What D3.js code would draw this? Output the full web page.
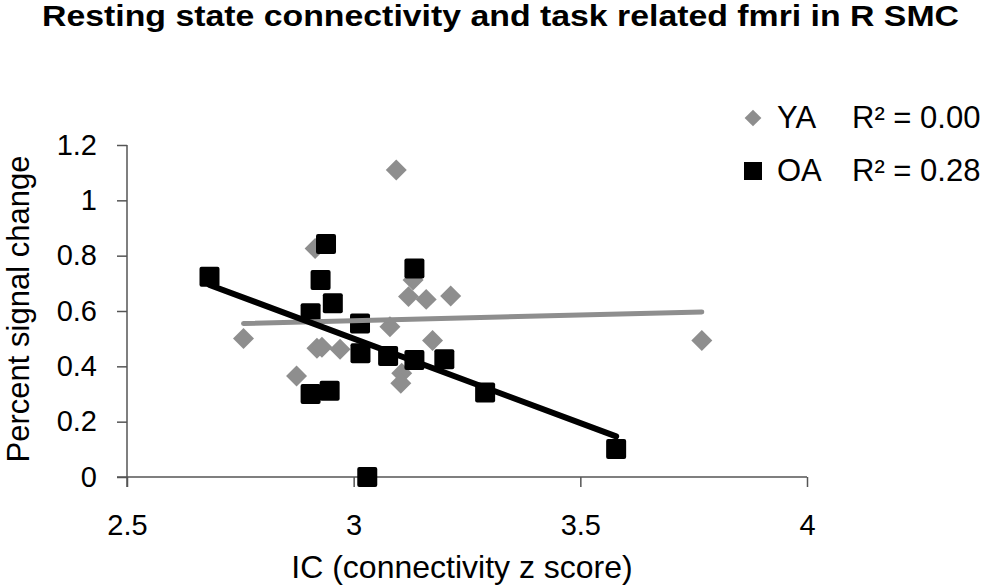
<!DOCTYPE html>
<html>
<head>
<meta charset="utf-8">
<script src="https://cdn.jsdelivr.net/npm/d3@7"></script>
<style>
  body { margin: 0; background: #fff; }
  text { font-family: "Liberation Sans", Arial, sans-serif; }
</style>
</head>
<body>
<svg id="chart" width="981" height="586"></svg>
<script>
// data
var yaX = [3.094, 2.915, 3.131, 3.121, 3.160, 3.214, 2.757, 3.080, 3.174, 2.919, 2.930, 2.970, 2.874, 3.106, 3.104, 3.768];
var yaY = [1.11, 0.826, 0.712, 0.652, 0.642, 0.654, 0.501, 0.543, 0.493, 0.465, 0.469, 0.462, 0.365, 0.375, 0.339, 0.493];
var oaX = [2.682, 2.939, 2.927, 2.954, 2.905, 3.134, 3.014, 3.015, 3.076, 3.134, 3.200, 2.947, 2.905, 3.290, 3.030, 3.579];
var oaY = [0.724, 0.842, 0.712, 0.628, 0.592, 0.754, 0.555, 0.447, 0.437, 0.423, 0.426, 0.312, 0.300, 0.305, 0.0, 0.101];
// linear trend lines: [intercept, slope]
var yaFit = [0.442, 0.041];
var oaFit = [2.33, -0.61];
var seriesNames = ["YA", "OA"];
var r2Labels = ["R\u00b2 = 0.00", "R\u00b2 = 0.28"];
var xTicks = [2.5, 3, 3.5, 4];
var yTicks = [0, 0.2, 0.4, 0.6, 0.8, 1, 1.2];

var grey = "#8e8e8e";
var svg = d3.select("#chart");

var x = d3.scaleLinear().domain([2.5, 4]).range([127, 807]);
var y = d3.scaleLinear().domain([0, 1.2]).range([477, 145]);

// title
svg.append("text")
  .attr("x", 42).attr("y", 26)
  .attr("textLength", 917).attr("lengthAdjust", "spacingAndGlyphs")
  .style("font-size", "29px").style("font-weight", "bold")
  .text("Resting state connectivity and task related fmri in R SMC");

// axes
var yAxis = svg.append("g")
  .attr("transform", "translate(127,0)")
  .call(d3.axisLeft(y).tickValues(yTicks).tickSize(10).tickPadding(20)
    .tickFormat(d3.format("~g")));
var xAxis = svg.append("g")
  .attr("transform", "translate(0,477)")
  .call(d3.axisBottom(x).tickValues(xTicks).tickSize(10).tickPadding(27)
    .tickFormat(d3.format("~g")));

[yAxis, xAxis].forEach(function(ax){
  ax.select(".domain").attr("stroke", "#555").attr("stroke-width", 1.5);
  ax.selectAll(".tick line").attr("stroke", "#555").attr("stroke-width", 1.5);
  ax.selectAll(".tick text").attr("fill", "#000")
    .style("font-size", "29px").style("font-family", "'Liberation Sans', Arial, sans-serif");
});
// x axis line starts at the y=0 tick end
xAxis.select(".domain").attr("d", "M117,0H807");
yAxis.select(".domain").attr("d", "M0,145V487");

// axis titles
svg.append("text")
  .attr("x", 462).attr("y", 578)
  .attr("text-anchor", "middle")
  .style("font-size", "32px")
  .text("IC (connectivity z score)");
svg.append("text")
  .attr("transform", "translate(29,309) rotate(-90)")
  .attr("text-anchor", "middle")
  .style("font-size", "31px")
  .text("Percent signal change");

// YA diamonds
var diamond = d3.symbol().type(d3.symbolSquare).size(220);
svg.append("g").selectAll("path")
  .data(d3.range(yaX.length))
  .join("path")
  .attr("d", diamond)
  .attr("transform", function(i){ return "translate(" + x(yaX[i]) + "," + y(yaY[i]) + ") rotate(45)"; })
  .attr("fill", grey);

// OA squares
svg.append("g").selectAll("rect")
  .data(d3.range(oaX.length))
  .join("rect")
  .attr("x", function(i){ return x(oaX[i]) - 10; })
  .attr("y", function(i){ return y(oaY[i]) - 10; })
  .attr("width", 20).attr("height", 20)
  .attr("rx", 2)
  .attr("fill", "#000");

// trend lines
function trend(xs, fit){
  var ext = d3.extent(xs);
  return ext.map(function(v){ return [x(v), y(fit[0] + fit[1] * v)]; });
}
var line = d3.line();
svg.append("path")
  .attr("d", line(trend(yaX, yaFit)))
  .attr("stroke", grey).attr("stroke-width", 5).attr("stroke-linecap", "round")
  .attr("fill", "none");
svg.append("path")
  .attr("d", line(trend(oaX, oaFit)))
  .attr("stroke", "#000").attr("stroke-width", 6).attr("stroke-linecap", "round")
  .attr("fill", "none");

// legend
var leg = svg.append("g");
leg.append("path")
  .attr("d", d3.symbol().type(d3.symbolSquare).size(140))
  .attr("transform", "translate(753,118) rotate(45)")
  .attr("fill", grey);
leg.append("rect")
  .attr("x", 744).attr("y", 162).attr("width", 18).attr("height", 18)
  .attr("fill", "#000");
seriesNames.forEach(function(name, i){
  leg.append("text")
    .attr("x", 777).attr("y", 128 + i * 53)
    .style("font-size", "31px")
    .text(name);
  leg.append("text")
    .attr("x", 852).attr("y", 128 + i * 53)
    .style("font-size", "31px")
    .text(r2Labels[i]);
});
</script>
</body>
</html>
